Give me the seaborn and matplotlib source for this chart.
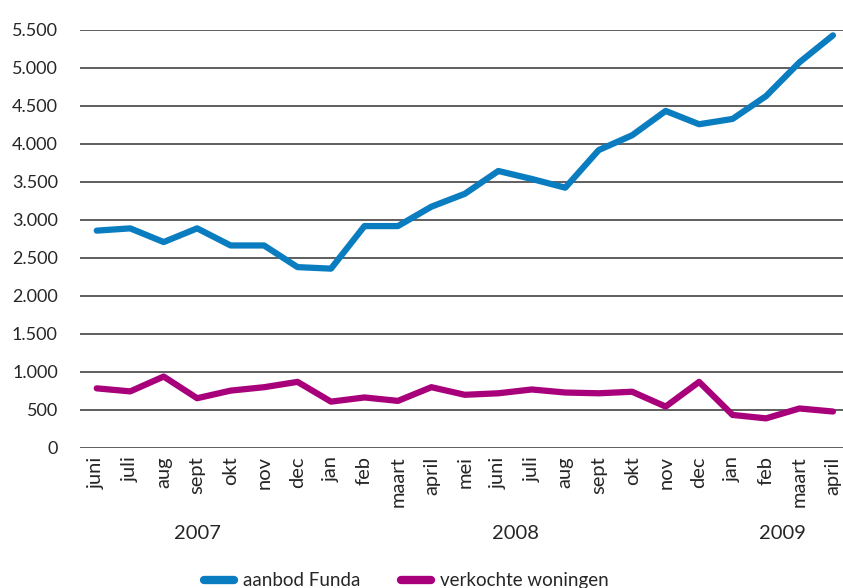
import numpy as np
import pandas as pd
import matplotlib
matplotlib.use("Agg")
import matplotlib.pyplot as plt
import matplotlib.transforms as mtransforms
from matplotlib.ticker import FuncFormatter
import seaborn as sns

# --- data ---
months = ["juni", "juli", "aug", "sept", "okt", "nov", "dec",
          "jan", "feb", "maart", "april", "mei", "juni", "juli", "aug", "sept", "okt", "nov", "dec",
          "jan", "feb", "maart", "april"]
years = ["2007"] * 7 + ["2008"] * 12 + ["2009"] * 4
aanbod_funda = [2860, 2890, 2710, 2890, 2665, 2665, 2380, 2360, 2920, 2920, 3175, 3345,
                3645, 3540, 3425, 3920, 4115, 4435, 4260, 4330, 4630, 5075, 5430]
verkochte_woningen = [785, 745, 940, 655, 755, 800, 870, 610, 665, 620, 800, 700,
                      720, 770, 730, 720, 740, 545, 870, 435, 390, 520, 480]

series_names = ["aanbod Funda", "verkochte woningen"]
colors = ["#0a7dc0", "#a8007a"]

# --- long form table for seaborn ---
idx = np.arange(len(months))
df = pd.DataFrame({
    "pos": np.concatenate([idx, idx]),
    "waarde": aanbod_funda + verkochte_woningen,
    "reeks": [series_names[0]] * len(idx) + [series_names[1]] * len(idx),
})

sns.set_style("white")
plt.rcParams["font.family"] = ["Lato", "DejaVu Sans"]

fig = plt.figure(figsize=(8.43, 5.88), dpi=100)
ax = fig.add_axes([80 / 843, 1 - 448 / 588, 1 - 80 / 843, 418 / 588])

sns.lineplot(data=df, x="pos", y="waarde", hue="reeks", palette=colors,
             linewidth=4.5, ax=ax, legend=False, zorder=3)
for line in ax.lines:
    line.set_solid_capstyle("round")
    line.set_solid_joinstyle("round")

# --- axes ---
ax.set_ylim(0, 5500)
ax.set_xlim(-0.5, 22.3)
ax.set_yticks(np.arange(0, 5501, 500))
ax.yaxis.set_major_formatter(FuncFormatter(lambda v, p: f"{int(v):,}".replace(",", ".")))
ax.grid(axis="y", color="#333333", linewidth=1.1)
ax.set_axisbelow(True)
for s in ax.spines.values():
    s.set_visible(False)

ax.set_xticks(idx)
ax.set_xticklabels(months, rotation=90, fontsize=14.5, va="top")
ax.tick_params(axis="x", length=0, pad=6)
ax.tick_params(axis="y", length=0, pad=16, labelsize=13)
for lbl in ax.get_yticklabels():
    lbl.set_horizontalalignment("right")
ax.set_xlabel("")
ax.set_ylabel("")

# year labels under the month groups
trans = mtransforms.blended_transform_factory(ax.transData, ax.transAxes)
for yr in ["2007", "2008", "2009"]:
    pos = idx[np.array(years) == yr].mean()
    ax.text(pos, -0.205, yr, transform=trans, ha="center", va="center", fontsize=14.5)

# legend at bottom (partly cut like the reference)
handles = [plt.Line2D([0], [0], color=c, linewidth=6, solid_capstyle="round") for c in colors]
fig.legend(handles, series_names, loc="center", bbox_to_anchor=(0.482, 0.012),
           ncol=2, frameon=False, fontsize=13.5, handlelength=1.6, columnspacing=2.2,
           handletextpad=0.45)

fig.savefig("out.png", dpi=100)
